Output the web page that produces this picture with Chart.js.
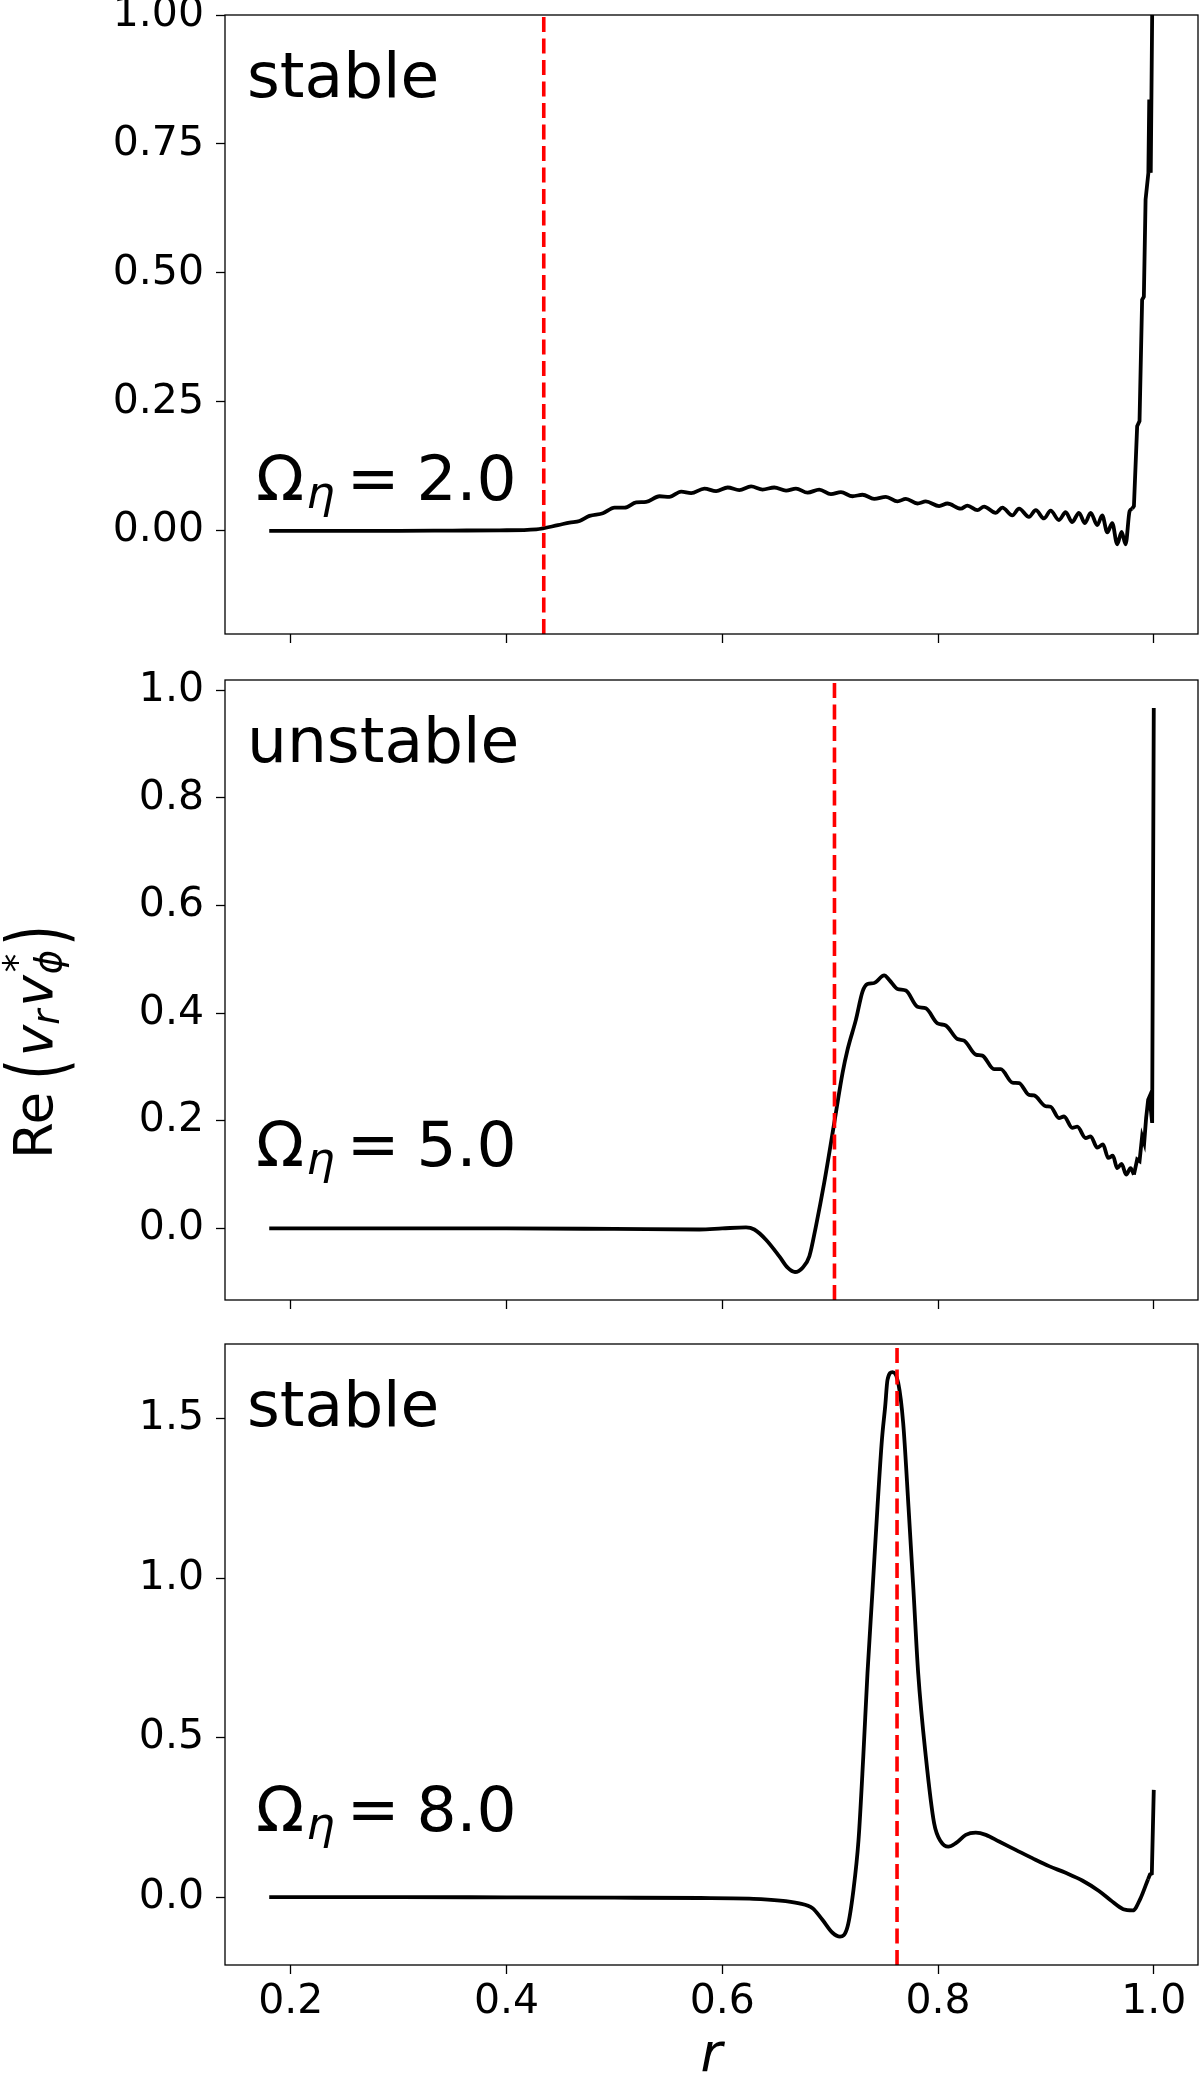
<!DOCTYPE html>
<html><head><meta charset="utf-8">
<script src="https://cdn.jsdelivr.net/npm/chart.js@4.4.1/dist/chart.umd.min.js"></script>
<style>
html,body{margin:0;padding:0;background:#fff;}
#wrap{position:relative;width:1200px;height:2076px;overflow:hidden;background:#fff;}
canvas{position:absolute;left:0;top:0;}
</style></head><body>
<div id="wrap">
<canvas id="c1" width="1200" height="2076"></canvas>
<canvas id="c2" width="1200" height="2076"></canvas>
<canvas id="c3" width="1200" height="2076"></canvas>
</div>
<script>
// ---------------- data ----------------
const xTicks = [0.2, 0.4, 0.6, 0.8, 1.0];
const xRange = [0.139, 1.041];

const panelLabels = ['stable', 'unstable', 'stable'];
const omegaValues = ['2.0', '5.0', '8.0'];
const criticalR = [0.4345, 0.704, 0.762];

const yTicks1 = [0, 0.25, 0.5, 0.75, 1.0];
const yTicks2 = [0, 0.2, 0.4, 0.6, 0.8, 1.0];
const yTicks3 = [0, 0.5, 1.0, 1.5];
const yRange1 = [-0.2, 1.0];
const yRange2 = [-0.133, 1.019];
const yRange3 = [-0.213, 1.734];
const yDecimals = [2, 1, 1];

// Omega_eta = 2.0 (smooth part)
const r1 = [0.18, 0.25, 0.30, 0.35, 0.3936, 0.4276, 0.4476, 0.4584, 0.4677, 0.4769, 0.4893, 0.5001, 0.5094, 0.5202, 0.5294, 0.5418, 0.5510, 0.5619, 0.5711, 0.5834, 0.5943, 0.6050, 0.6158, 0.6267, 0.6374, 0.6482, 0.6591, 0.6683, 0.6791, 0.6899, 0.7007, 0.7100, 0.7207, 0.7300, 0.7408, 0.7517, 0.7624, 0.7702, 0.7809, 0.7887, 0.8010, 0.8087, 0.8211, 0.8272, 0.8365, 0.8427, 0.8535, 0.8596, 0.8689, 0.8751, 0.8843, 0.8906, 0.8982, 0.9044, 0.9121, 0.9183, 0.9244, 0.9306, 0.9362, 0.9415, 0.9476, 0.9522, 0.9569, 0.9615, 0.9661, 0.9702, 0.9739, 0.9776, 0.9800];
const v1 = [0, 0, 0, 0.0005, 0.001, 0.003, 0.011, 0.016, 0.019, 0.029, 0.034, 0.045, 0.045, 0.055, 0.056, 0.067, 0.066, 0.076, 0.073, 0.082, 0.077, 0.084, 0.079, 0.086, 0.080, 0.084, 0.078, 0.082, 0.074, 0.080, 0.071, 0.075, 0.067, 0.070, 0.062, 0.066, 0.057, 0.062, 0.053, 0.057, 0.048, 0.053, 0.043, 0.049, 0.040, 0.047, 0.035, 0.045, 0.030, 0.043, 0.027, 0.040, 0.024, 0.039, 0.021, 0.036, 0.017, 0.035, 0.015, 0.035, 0.011, 0.030, -0.003, 0.015, -0.026, -0.002, -0.026, 0.038, 0.043];
// Omega_eta = 2.0 (boundary spike)
const r1Edge = [0.9800, 0.9816, 0.9846, 0.9868, 0.9892, 0.9908, 0.9924, 0.9950, 0.9958, 0.9972, 1.0];
const v1Edge = [0.043, 0.048, 0.203, 0.213, 0.448, 0.454, 0.642, 0.694, 0.836, 0.694, 1.35];

// Omega_eta = 5.0
const r2 = [0.18, 0.30, 0.40, 0.50, 0.5788, 0.60, 0.622, 0.6297, 0.6405, 0.6529, 0.6606, 0.6674, 0.6745, 0.6807, 0.6868, 0.6945, 0.7038, 0.7115, 0.7161, 0.7239, 0.7300, 0.7346, 0.7408, 0.7501, 0.7547, 0.7624, 0.7702, 0.7809, 0.7887, 0.7995, 0.8072, 0.8180, 0.8242, 0.8350, 0.8411, 0.8519, 0.8581, 0.8689, 0.8751, 0.8844, 0.8890, 0.8998, 0.9044, 0.9121, 0.9168, 0.9244, 0.9291, 0.9368, 0.9415, 0.9476, 0.9529, 0.9578, 0.9621, 0.9661, 0.9702, 0.9744, 0.9785, 0.9816];
const v2 = [0, 0, 0, -0.001, -0.002, 0.0, 0.002, -0.002, -0.021, -0.052, -0.073, -0.081, -0.073, -0.052, 0.004, 0.085, 0.196, 0.289, 0.332, 0.388, 0.440, 0.454, 0.456, 0.470, 0.462, 0.445, 0.442, 0.412, 0.409, 0.381, 0.377, 0.352, 0.349, 0.323, 0.321, 0.296, 0.296, 0.271, 0.270, 0.248, 0.247, 0.227, 0.226, 0.205, 0.208, 0.187, 0.189, 0.168, 0.171, 0.150, 0.156, 0.131, 0.135, 0.112, 0.120, 0.100, 0.112, 0.100];
const r2Edge = [0.9816, 0.9846, 0.9868, 0.9892, 0.9911, 0.9929, 0.9948, 0.9961, 0.9985, 1.0];
const v2Edge = [0.100, 0.128, 0.125, 0.171, 0.159, 0.205, 0.239, 0.245, 0.196, 0.967];

// Omega_eta = 8.0
const r3 = [0.18, 0.30, 0.40, 0.50, 0.58, 0.625, 0.6714, 0.6837, 0.6930, 0.7022, 0.7091, 0.7161, 0.7215, 0.7263, 0.7307, 0.7346, 0.7393, 0.7439, 0.7480, 0.7510, 0.7532, 0.7578, 0.7631, 0.7677, 0.7726, 0.7772, 0.7816, 0.7887, 0.7964, 0.8026, 0.8096, 0.8165, 0.8257, 0.8350, 0.8443, 0.8566, 0.8720, 0.8874, 0.9029, 0.9183, 0.9337, 0.9492, 0.9600, 0.9717, 0.9806, 0.9876, 0.9947];
const v3 = [0, 0, -0.001, -0.002, -0.003, -0.005, -0.020, -0.035, -0.072, -0.112, -0.124, -0.093, 0.020, 0.179, 0.440, 0.702, 0.963, 1.225, 1.434, 1.538, 1.622, 1.646, 1.612, 1.486, 1.225, 0.963, 0.702, 0.440, 0.231, 0.174, 0.158, 0.169, 0.195, 0.202, 0.195, 0.174, 0.148, 0.122, 0.097, 0.076, 0.052, 0.019, -0.010, -0.038, -0.042, -0.005, 0.056];
const r3Edge = [0.9947, 0.9965, 0.9982, 1.0];
const v3Edge = [0.056, 0.071, 0.074, 0.336];

// ---------------- layout ----------------
const W = 1200, H = 2076;
const PANEL_TOP = [15, 680, 1344];
const PANEL_BOTTOM = [634, 1300, 1965];
const X_AXIS_H = 60;
const FONT = "'DejaVu Sans', 'Liberation Sans', sans-serif";

Chart.defaults.font.family = FONT;
Chart.defaults.font.size = 41;
Chart.defaults.color = '#000';

function pts(rs, vs) { return rs.map((r, k) => ({ x: r, y: vs[k] })); }

function drawYLabel(ctx) {
  ctx.save();
  ctx.translate(52, 1042);
  ctx.rotate(-Math.PI / 2);
  ctx.fillStyle = '#000';
  ctx.textBaseline = 'alphabetic';
  ctx.textAlign = 'left';
  const F = 53;
  const pieces = [
    { t: 'Re', f: F + 'px ' + FONT, dy: 0, gap: 12 },
    { t: '(', f: F + 'px ' + FONT, paren: true, gap: 3 },
    { t: 'v', f: 'italic ' + F + 'px ' + FONT, dy: 0, gap: 0 },
    { t: 'r', f: 'italic 37px ' + FONT, dy: 7, gap: 3 },
    { t: 'v', f: 'italic ' + F + 'px ' + FONT, dy: 0, gap: 1 },
    { t: '\u03D5', f: 'italic 37px ' + FONT, dy: 9, st: { t: '*', f: '37px ' + FONT, dy: -22 }, gap: 4 },
    { t: ')', f: F + 'px ' + FONT, paren: true, gap: 0 }
  ];
  let total = 0;
  pieces.forEach(p => {
    ctx.font = p.f; let w = ctx.measureText(p.t).width;
    if (p.st) { ctx.font = p.st.f; w = Math.max(w, ctx.measureText(p.st.t).width); }
    p.w = w; total += w + p.gap;
  });
  let x = -total / 2;
  pieces.forEach(p => {
    ctx.font = p.f;
    if (p.paren) {
      ctx.save();
      ctx.translate(x, -13);
      ctx.scale(1, 1.5);
      ctx.fillText(p.t, 0, 0.315 * F);
      ctx.restore();
    } else {
      ctx.fillText(p.t, x, p.dy);
    }
    if (p.st) { ctx.font = p.st.f; ctx.fillText(p.st.t, x + 2, p.st.dy); }
    x += p.w + p.gap;
  });
  ctx.restore();
}

const decor = {
  id: 'decor',
  afterDatasetsDraw(chart, args, opts) {
    const ctx = chart.ctx, a = chart.chartArea;
    ctx.save();
    ctx.strokeStyle = '#000';
    ctx.lineWidth = 1.3;
    ctx.strokeRect(a.left, a.top, a.right - a.left, a.bottom - a.top);
    ctx.fillStyle = '#000';
    ctx.textBaseline = 'alphabetic';
    ctx.textAlign = 'left';
    ctx.font = '63px ' + FONT;
    ctx.fillText(opts.label, a.left + 22, a.top + 82);
    let x = a.left + 31;
    const y = a.bottom - 134;
    ctx.fillText('\u03A9', x, y);
    x += ctx.measureText('\u03A9').width + 2;
    ctx.font = 'italic 45px ' + FONT;
    ctx.fillText('\u03B7', x, y + 8);
    x += ctx.measureText('\u03B7').width + 12;
    ctx.font = '63px ' + FONT;
    ctx.fillText('=', x, y);
    x += ctx.measureText('=').width + 17;
    ctx.fillText(opts.value, x, y);
    if (opts.yLabel) drawYLabel(ctx);
    if (opts.xLabel) {
      ctx.font = 'italic 53px ' + FONT;
      ctx.textAlign = 'center';
      ctx.fillText('r', (a.left + a.right) / 2, 2071);
    }
    ctx.restore();
  }
};

function makeChart(i, id, rs, vs, rE, vE, yTicks, yRange) {
  const ctx = document.getElementById(id).getContext('2d');
  return new Chart(ctx, {
    type: 'line',
    data: {
      datasets: [
        { data: [{ x: criticalR[i], y: yRange[0] }, { x: criticalR[i], y: yRange[1] }],
          borderColor: '#ff0000', borderWidth: 3.6, borderDash: [15, 6.5], pointRadius: 0, tension: 0, fill: false },
        { data: pts(rs, vs), borderColor: '#000', borderWidth: 3.8, pointRadius: 0,
          cubicInterpolationMode: 'monotone', fill: false },
        { data: pts(rE, vE), borderColor: '#000', borderWidth: 3.8, pointRadius: 0, tension: 0, fill: false }
      ]
    },
    options: {
      responsive: false,
      maintainAspectRatio: false,
      animation: false,
      devicePixelRatio: 1,
      events: [],
      layout: { padding: { top: PANEL_TOP[i], bottom: H - PANEL_BOTTOM[i] - X_AXIS_H, left: 0, right: 2 } },
      plugins: {
        legend: { display: false },
        tooltip: { enabled: false },
        decor: { label: panelLabels[i], value: omegaValues[i], yLabel: i === 1, xLabel: i === 2 }
      },
      scales: {
        x: {
          type: 'linear', min: xRange[0], max: xRange[1],
          afterBuildTicks: s => { s.ticks = xTicks.map(v => ({ value: v })); },
          afterFit: s => { s.height = X_AXIS_H; s.paddingLeft = 0; s.paddingRight = 0; },
          ticks: { padding: 4, maxRotation: 0, autoSkip: false,
                   callback: v => (i === 2 ? Number(v).toFixed(1) : '') },
          grid: { display: true, drawOnChartArea: false, drawTicks: true, tickLength: 9,
                  tickWidth: 1.3, tickColor: '#000' },
          border: { display: false }
        },
        y: {
          type: 'linear', min: yRange[0], max: yRange[1],
          afterBuildTicks: s => { s.ticks = yTicks.map(v => ({ value: v })); },
          afterFit: s => { s.width = 225; s.paddingTop = 0; s.paddingBottom = 0; },
          ticks: { padding: 12, autoSkip: false, callback: v => Number(v).toFixed(yDecimals[i]) },
          grid: { display: true, drawOnChartArea: false, drawTicks: true, tickLength: 9,
                  tickWidth: 1.3, tickColor: '#000' },
          border: { display: false }
        }
      }
    },
    plugins: [decor]
  });
}

makeChart(0, 'c1', r1, v1, r1Edge, v1Edge, yTicks1, yRange1);
makeChart(1, 'c2', r2, v2, r2Edge, v2Edge, yTicks2, yRange2);
makeChart(2, 'c3', r3, v3, r3Edge, v3Edge, yTicks3, yRange3);
</script>
</body></html>
